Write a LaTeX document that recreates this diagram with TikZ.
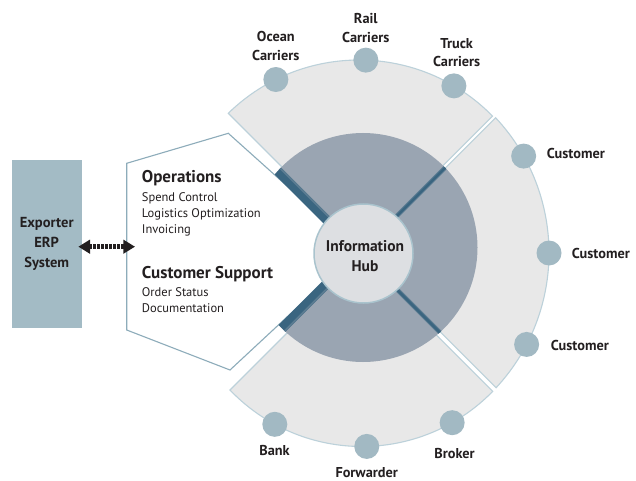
\documentclass[tikz,border=0pt]{standalone}
\usepackage{fontspec}
\setmainfont{PT Sans}
\usetikzlibrary{arrows.meta}
\definecolor{lightsec}{HTML}{E8E8E8}
\definecolor{secborder}{HTML}{BCD1DA}
\definecolor{darkring}{HTML}{9AA5B2}
\definecolor{barblue}{HTML}{3A6580}
\definecolor{barlight}{HTML}{5A7B91}
\definecolor{dotfill}{HTML}{A2B9C3}
\definecolor{hubfill}{HTML}{DDDFE2}
\definecolor{hubborder}{HTML}{A9C3CD}
\definecolor{hexborder}{HTML}{8DACBA}
\definecolor{erpfill}{HTML}{A3BBC5}
\definecolor{txt}{HTML}{231F20}
\tikzset{
  sector/.style={fill=lightsec, draw=secborder, line width=1.1pt},
  dot/.style={circle, fill=dotfill, minimum size=25pt, inner sep=0pt},
  hexa/.style={fill=white, draw=hexborder, line width=1.1pt},
  bigbar/.style={draw=barblue, line width=9.5pt},
  bigbarlight/.style={draw=barlight, line width=2pt},
  thinbarlight/.style={draw=barlight, line width=4.5pt},
  thinbar/.style={draw=barblue, line width=2.5pt},
  hubc/.style={circle, fill=hubfill, draw=hubborder, line width=1.5pt, minimum size=99pt, inner sep=0pt},
  hubtxt/.style={font=\bfseries\fontsize{15.5}{20.6}\selectfont, text=txt, align=center, inner sep=0pt},
  lbl/.style={font=\bfseries\fontsize{14.3}{18}\selectfont, text=txt, inner sep=0pt, anchor=base},
  lblw/.style={font=\bfseries\fontsize{14.3}{18}\selectfont, text=txt, inner sep=0pt, anchor=base west},
  headtxt/.style={font=\bfseries\fontsize{17}{20}\selectfont, text=txt, inner sep=0pt, anchor=base west},
  itemtxt/.style={font=\fontsize{12.5}{16}\selectfont, text=txt, inner sep=0pt, anchor=base west},
  erpbox/.style={fill=erpfill, minimum width=70pt, minimum height=168.3pt, inner sep=0pt,
     font=\bfseries\fontsize{14.5}{20}\selectfont, text=txt, align=center},
  dblarrow/.style={draw=txt, line width=4.5pt, dash pattern=on 2.4pt off 1.6pt,
     {Triangle[length=11.7pt,width=13.4pt]}-{Triangle[length=11.7pt,width=13.4pt]}}
}
\begin{document}
\begin{tikzpicture}[x=1pt,y=-1pt]
\useasboundingbox (0,0) rectangle (636,481);
\fill[white] (0,0) rectangle (636,481);
\coordinate (Tc) at (359,247);
\coordinate (Rc) at (351,253);
\coordinate (Bc) at (362,264);
\coordinate (Dc) at (363,247.5);
\coordinate (Hc) at (363.5,253.5);
% light sectors
\draw[sector] ([shift={(Tc)}]134.35:187pt) arc[start angle=134.35, end angle=44.42, radius=187pt]
   -- (382.7,226) -- (338.3,223.3) -- cycle;
\draw[sector] ([shift={(Rc)}]43.09:198pt) arc[start angle=43.09, end angle=-42.88, radius=198pt]
   -- (386.7,278.3) -- (385,228.3) -- cycle;
\draw[sector] ([shift={(Bc)}]-44.27:182.5pt) arc[start angle=-44.27, end angle=-136.33, radius=182.5pt]
   -- (340,280) -- (383,281.7) -- cycle;
% dark ring
\fill[darkring] (Dc) circle[radius=114.5pt];
% hexagon panel
\draw[hexa] (126.7,163.3) -- (228.3,133.3) -- (335,229) -- (330,277) -- (230,370) -- (126.7,330) -- cycle;
% bars
\begin{scope}
\clip (Dc) circle[radius=114.5pt];
\draw[bigbar] (361.88,255.12) -- (261.88,155.12);
\draw[bigbarlight] (364.5,252.5) -- (264.5,152.5);
\draw[bigbar] (360.68,249.68) -- (260.68,349.68);
\draw[bigbarlight] (363.4,252.4) -- (263.4,352.4);
\draw[thinbarlight] (361.88,250.88) -- (491.88,120.88);
\draw[thinbar] (361.88,250.88) -- (491.88,120.88);
\draw[thinbarlight] (362.23,254.77) -- (492.23,384.77);
\draw[thinbar] (362.23,254.77) -- (492.23,384.77);
\end{scope}
% hub
\node[hubc] (hub) at (Hc) {};
\node[hubtxt] (hubtext) at (365,256) {Information\\Hub};
% dots
\node[dot] (ocean) at ([shift={(Tc)}]116.4:187pt) {};
\node[dot] (rail) at ([shift={(Tc)}]87.9:187pt) {};
\node[dot] (truck) at ([shift={(Tc)}]59.5:187pt) {};
\node[dot] (cust1) at ([shift={(Rc)}]29.3:198pt) {};
\node[dot] (cust2) at ([shift={(Rc)}]0:198pt) {};
\node[dot] (cust3) at ([shift={(Rc)}]-27.5:198pt) {};
\node[dot] (bank) at ([shift={(Bc)}]241.46:182.5pt) {};
\node[dot] (fwd) at ([shift={(Bc)}]271.5:182.5pt) {};
\node[dot] (broker) at ([shift={(Bc)}]299.6:182.5pt) {};
% outer labels
\node[lbl] (oceanA) at (275.8,41.7) {Ocean};
\node[lbl] (oceanB) at (275.8,60.3) {Carriers};
\node[lbl] (railA) at (365.8,23.3) {Rail};
\node[lbl] (railB) at (365.8,42.7) {Carriers};
\node[lbl] (truckA) at (456.7,48.3) {Truck};
\node[lbl] (truckB) at (456.7,66.7) {Carriers};
\node[lblw] (cust1t) at (546.7,158.3) {Customer};
\node[lblw] (cust2t) at (571.7,258.3) {Customer};
\node[lblw] (cust3t) at (550.7,350) {Customer};
\node[lbl] (bankt) at (274.5,455) {Bank};
\node[lbl] (fwdt) at (366.7,477.3) {Forwarder};
\node[lbl] (brokert) at (454.5,458.3) {Broker};
% panel text
\node[headtxt] (ops) at (141.7,182.5) {Operations};
\node[itemtxt] (it1) at (141.7,201.1) {Spend Control};
\node[itemtxt] (it2) at (141.7,217.3) {Logistics Optimization};
\node[itemtxt] (it3) at (141.7,233.7) {Invoicing};
\node[headtxt] (cs) at (141.7,278.3) {Customer Support};
\node[itemtxt] (it4) at (141.7,296.1) {Order Status};
\node[itemtxt] (it5) at (141.7,312.7) {Documentation};
% ERP box and arrow
\node[erpbox] (erp) at (46.7,244.2) {Exporter\\ERP\\System};
\coordinate (aL) at (78.3,246.7);
\coordinate (aR) at (135,246.7);
\draw[dblarrow] (aL) -- (aR);
\end{tikzpicture}
\end{document}
